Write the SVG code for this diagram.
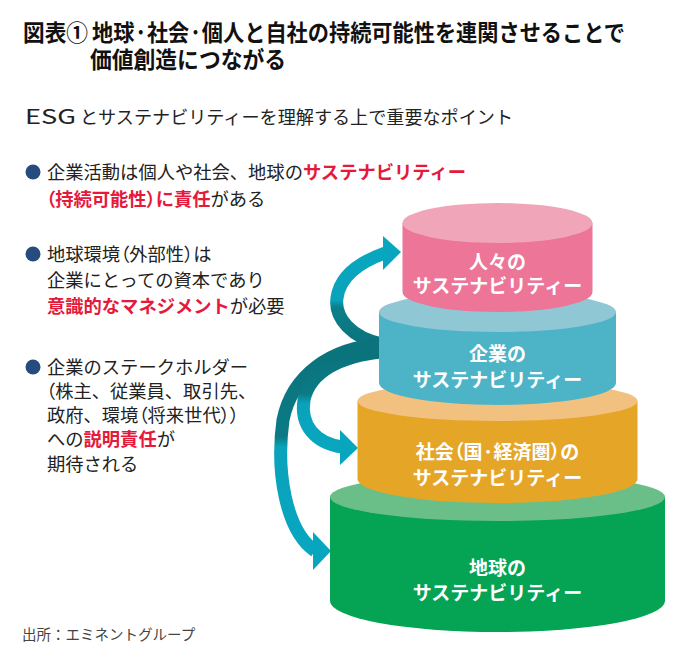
<svg xmlns="http://www.w3.org/2000/svg" width="700" height="660" viewBox="0 0 700 660">
<style>
.t{font-family:"Noto Sans CJK JP","Noto Sans",sans-serif;}
.title{font-size:23px;font-weight:700;fill:#111;}
.sub{font-size:18px;fill:#222;}
.esg{font-size:20.5px;}
.body{font-size:18.3px;fill:#222;}
.red{fill:#E5193B;font-weight:700;}
.lbl{font-size:19px;font-weight:700;fill:#fff;text-anchor:middle;}
.src{font-size:14.5px;fill:#444;}
.p{font-feature-settings:"palt";}
.dot{fill:#264B7E;}
.rib{fill:none;stroke-width:13;}
.head{fill:#08A5BE;}
</style>
<defs>
<linearGradient id="gTop" gradientUnits="userSpaceOnUse" x1="0" y1="345" x2="0" y2="250">
<stop offset="0" stop-color="#0A737C"/><stop offset="0.4" stop-color="#0B808A"/><stop offset="0.47" stop-color="#0AA2BB"/><stop offset="1" stop-color="#08A6C0"/>
</linearGradient>
<linearGradient id="gOuter" gradientUnits="userSpaceOnUse" x1="0" y1="344" x2="0" y2="550">
<stop offset="0" stop-color="#0A737C"/><stop offset="0.45" stop-color="#0B7A84"/><stop offset="0.5" stop-color="#0AA2BB"/><stop offset="1" stop-color="#08A6C0"/>
</linearGradient>
<linearGradient id="gInner" gradientUnits="userSpaceOnUse" x1="0" y1="350" x2="0" y2="447">
<stop offset="0" stop-color="#0A737C"/><stop offset="0.45" stop-color="#0B7A84"/><stop offset="0.55" stop-color="#0AA2BB"/><stop offset="1" stop-color="#08A6C0"/>
</linearGradient>
</defs>
<rect width="700" height="660" fill="#fff"/>

<g id="title" class="t title">
<text x="23" y="41" textLength="65" lengthAdjust="spacingAndGlyphs">図表①</text>
<text x="92" y="41" textLength="533" lengthAdjust="spacingAndGlyphs">地球·社会·個人と自社の持続可能性を連関させることで</text>
<text x="90" y="68" textLength="196" lengthAdjust="spacingAndGlyphs">価値創造につながる</text>
</g>

<g id="subtitle" class="t sub">
<text class="esg" x="25" y="124" textLength="51" lengthAdjust="spacingAndGlyphs">ESG</text>
<text x="80" y="124" textLength="433" lengthAdjust="spacingAndGlyphs">とサステナビリティーを理解する上で重要なポイント</text>
</g>

<g id="point1" class="t body">
<circle class="dot" cx="33" cy="172" r="7.5"/>
<text x="47" y="178.5">企業活動は個人や社会、地球の<tspan class="red">サステナビリティー</tspan></text>
<text x="46" y="205.5"><tspan class="red"><tspan class="p">（</tspan>持続可能性<tspan class="p">）</tspan>に責任</tspan>がある</text>
</g>

<g id="point2" class="t body">
<circle class="dot" cx="33" cy="254" r="7.5"/>
<text x="47" y="260.5">地球環境<tspan class="p">（</tspan>外部性<tspan class="p">）</tspan>は</text>
<text x="47" y="286.5">企業にとっての資本であり</text>
<text x="47" y="312.5"><tspan class="red">意識的なマネジメント</tspan>が必要</text>
</g>

<g id="point3" class="t body">
<circle class="dot" cx="33" cy="367" r="7.5"/>
<text x="47" y="373.5">企業のステークホルダー</text>
<text x="46" y="397.5"><tspan class="p">（</tspan>株主、従業員、取引先、</text>
<text x="47" y="421.5">政府、環境<tspan class="p">（</tspan>将来世代<tspan class="p">））</tspan></text>
<text x="47" y="445.5">への<tspan class="red">説明責任</tspan>が</text>
<text x="47" y="470.5">期待される</text>
</g>

<g id="connectors">
<path class="rib" stroke="url(#gTop)" d="M382,344 C352,338 334,318 337,298 C340,275 360,262 385,253"/>
<polygon class="head" points="383,236 401,252 383,270"/>
<path class="rib" stroke="url(#gOuter)" stroke-width="12" d="M382,344 C330,348 292,375 283,420 C276,470 285,530 315,551"/>
<polygon class="head" points="313,532 331,551 313,570"/>
<path class="rib" stroke="url(#gInner)" d="M382,352 C340,356 310,372 304,400 C300,425 315,443 342,447"/>
<polygon class="head" points="340,430 358,448 340,465"/>
</g>

<g id="earth">
<path fill="#04A454" d="M330,497 L330,601 A167.5,31 0 0 0 665,601 L665,497 Z"/>
<ellipse fill="#69BF87" cx="497.5" cy="497" rx="167.5" ry="24"/>
<text class="t lbl" x="497.5" y="575">地球の</text>
<text class="t lbl" x="497.5" y="600">サステナビリティー</text>
</g>

<g id="society">
<path fill="#E5A628" d="M357.5,401 L357.5,479 A140,24 0 0 0 637.5,479 L637.5,401 Z"/>
<ellipse fill="#F3C17F" cx="497.5" cy="401" rx="140" ry="20"/>
<text class="t lbl" x="497.5" y="459">社会<tspan class="p">（</tspan>国·経済圏<tspan class="p">）</tspan>の</text>
<text class="t lbl" x="497.5" y="485">サステナビリティー</text>
</g>

<g id="company">
<path fill="#4DB4C8" d="M379,312 L379,383 A118.5,22 0 0 0 616,383 L616,312 Z"/>
<ellipse fill="#8FC7D5" cx="497.5" cy="312" rx="118.5" ry="20"/>
<text class="t lbl" x="497.5" y="361">企業の</text>
<text class="t lbl" x="497.5" y="387">サステナビリティー</text>
</g>

<g id="people">
<path fill="#EC7598" d="M402.5,223 L402.5,292 A95,20 0 0 0 592.5,292 L592.5,223 Z"/>
<ellipse fill="#F1A5B9" cx="497.5" cy="223" rx="95" ry="20"/>
<text class="t lbl" x="497.5" y="269">人々の</text>
<text class="t lbl" x="497.5" y="293">サステナビリティー</text>
</g>

<g id="source" class="t src">
<text x="22" y="640">出所：エミネントグループ</text>
</g>
</svg>
